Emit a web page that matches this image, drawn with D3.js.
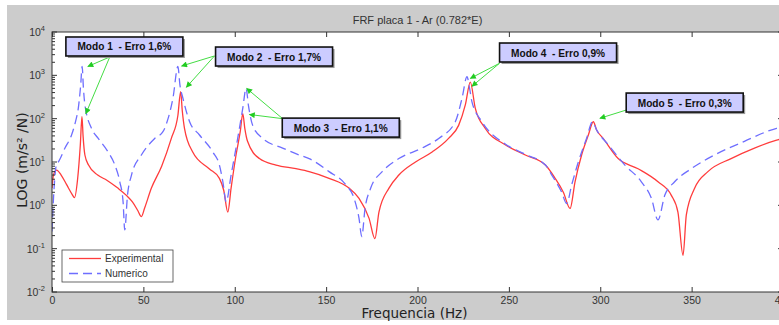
<!DOCTYPE html>
<html><head><meta charset="utf-8">
<script src="https://cdn.jsdelivr.net/npm/d3@7"></script>
<style>body{margin:0;background:#fff}svg{display:block}</style>
</head><body>
<script>
// ---- data ----
const expFreq = [0,0.8,2.5,5,8,11,12.3,14,15.5,16.4,17,18,20,25,30,36,40.7,44,47,48.9,50.7,54.4,60,65.3,68.9,70.4,71.3,72.5,77,86,91.6,94,96.2,98,100.7,103,104.4,105.5,107,113.5,122.6,133.5,140.7,151.6,162.5,168,173.5,176.7,178.9,184.4,189.8,198.9,208,217,222.5,226.2,228.9,231.6,237,248,259,270,275.3,279.8,283.5,286.2,289.8,293.5,296.2,298,301.6,309.8,320.7,331.6,338.9,342.5,345.3,347.1,351.7,358.9,371.6,384.4,396.5,400];
const expVal = [2.5,5,6.5,5,3,1.8,1.5,4,25,112,40,14.5,8.5,5,3.8,2.5,1.7,1.2,0.75,0.55,0.87,2.5,8,35,120,420,150,60,17,7,4.2,2.2,0.7,2.5,14.5,50,130,60,30,12,8.5,7,6,4.2,2.5,1.45,0.5,0.17,0.7,2.5,5,10,17,35,70,210,700,175,60,25,14.5,8.5,4.2,2,0.85,3.5,14.5,42,85,55,35,12,7,3.5,1.7,0.7,0.07,0.6,2.5,6,12,21,32,35];
const numFreq = [0,1,2.5,3.4,7.1,10.7,13,14.4,15.7,16.5,17.2,18,21.6,25.3,30.7,34.4,37.1,38.9,39.8,41.3,43.5,48.9,56.2,60.7,63.5,66.2,68.9,70,71.6,75.3,80.7,88,91.6,93.5,95.3,98,101.6,104.4,106.2,107.5,109.8,115.3,126.2,135.3,140.7,151.6,160.7,165.3,168,169.5,171.3,174.4,180.7,189.8,202.5,211.6,220.7,224.4,227.1,228.5,229.8,235.3,248,259,270,273.5,278.9,281.6,284.4,288,292.5,295.8,298,304.4,313.5,322.5,328,331.6,335.3,340.7,349.8,362.5,378.9,396.5,400];
const numVal = [0.25,2,9,10,21,42,90,175,600,1600,500,210,60,35,17,8.5,3.5,1.2,0.27,1.7,5,14.5,35,50,100,300,1600,600,300,85,42,17,8.5,3.5,1.2,5,35,175,500,200,70,35,21,14.5,12,6,3,1.45,0.5,0.19,0.85,2.5,6,12,21,35,85,300,930,500,245,85,26,15,8.5,5,2,1.1,3,10,35,85,55,25,8.5,3.5,1.45,0.46,1.7,3.5,7,14.5,30,60,65];
const xTicks = [0,50,100,150,200,250,300,350,400];
const yExponents = [-2,-1,0,1,2,3,4];
const title = "FRF placa 1 - Ar (0.782*E)";
const xTitle = "Frequencia (Hz)";
const yTitle = "LOG (m/s² /N)";
const seriesNames = ["Experimental", "Numerico"];
// annotations: label, box top-left (f, value), arrow start (f, value), arrow targets (f, value)
const annLabels = ["Modo 1  - Erro 1,6%","Modo 2  - Erro 1,7%","Modo 3  - Erro 1,1%","Modo 4  - Erro 0,9%","Modo 5  - Erro 0,3%"];
const annBoxF = [7.6, 89.5, 126, 244.9, 314.2];
const annBoxV = [7670, 4500, 103, 5570, 390];
const annStartF = [31.6, 88.9, 126.2, 244.9, 314.2];
const annStartV = [2650, 2800, 100, 1900, 158];
const annTargets = [[[19.6,1600],[18.5,130]],[[70.9,1640],[73.5,530]],[[106.5,500],[108,125]],[[228.9,850],[229.8,560]],[[299.8,102]]];

const W = 779, H = 325;
const svg = d3.select("body").append("svg").attr("width", W).attr("height", H);
svg.append("rect").attr("x",7).attr("y",5).attr("width",W-7).attr("height",315).attr("fill","#cccccc");

const x = d3.scaleLinear().domain([0,400]).range([52,783]);
const y = d3.scaleLog().domain([0.01,1e4]).range([292,32]);
const L=52,R=783,T=32,B=292;

svg.append("rect").attr("x",L).attr("y",T).attr("width",R-L).attr("height",B-T).attr("fill","#fff");

svg.append("text").attr("x",(L+R)/2).attr("y",24).attr("text-anchor","middle")
  .attr("font-family","Liberation Sans, Arial").attr("font-size",11).attr("fill","#333").text(title);

svg.append("clipPath").attr("id","pc").append("rect").attr("x",L).attr("y",T).attr("width",R-L).attr("height",B-T);

const line = d3.line().x(d=>x(d[0])).y(d=>y(d[1])).curve(d3.curveMonotoneX);
const g = svg.append("g").attr("clip-path","url(#pc)");
g.append("path").datum(expFreq.map((f,i)=>[f,expVal[i]])).attr("d",line)
  .attr("fill","none").attr("stroke","#ff3c3c").attr("stroke-width",1.3);
g.append("path").datum(numFreq.map((f,i)=>[f,numVal[i]])).attr("d",line)
  .attr("fill","none").attr("stroke","#6e6eff").attr("stroke-width",1.3).attr("stroke-dasharray","9,5");

const axc = "#333";
svg.append("rect").attr("x",L).attr("y",T).attr("width",R-L).attr("height",B-T).attr("fill","none").attr("stroke",axc).attr("stroke-width",1);

const xb = svg.append("g").attr("transform",`translate(0,${B})`).call(d3.axisBottom(x).tickValues(xTicks).tickSize(-5).tickFormat(d3.format("d")).tickPadding(5));
const xt = svg.append("g").attr("transform",`translate(0,${T})`).call(d3.axisTop(x).tickValues(xTicks).tickSize(-5).tickFormat(""));
[xb,xt].forEach(a=>{a.select(".domain").remove();a.selectAll("line").attr("stroke",axc);
  a.selectAll("text").attr("font-family","Liberation Sans, Arial").attr("font-size",10.5).attr("fill","#333");});

const minorVals = [];
yExponents.slice(0,-1).forEach(e=>{for(let k=2;k<=9;k++) minorVals.push(k*Math.pow(10,e));});
const majorVals = yExponents.map(e=>Math.pow(10,e));
[[L,1],[R,-1]].forEach(([px,dir])=>{
  const ga = svg.append("g");
  ga.selectAll(".mj").data(majorVals).join("line").attr("x1",px).attr("x2",px+dir*5).attr("y1",d=>y(d)).attr("y2",d=>y(d)).attr("stroke",axc);
  ga.selectAll(".mn").data(minorVals).join("line").attr("x1",px).attr("x2",px+dir*3).attr("y1",d=>y(d)).attr("y2",d=>y(d)).attr("stroke",axc);
});
const yl = svg.append("g");
yExponents.forEach(e=>{
  const t = yl.append("text").attr("x",45).attr("y",y(Math.pow(10,e))+4).attr("text-anchor","end")
    .attr("font-family","Liberation Sans, Arial").attr("font-size",10.5).attr("fill","#333");
  t.append("tspan").text("10");
  t.append("tspan").attr("dy",-5).attr("font-size",7.5).text(e);
});

svg.append("text").attr("x",(L+R)/2-3).attr("y",318).attr("text-anchor","middle")
  .attr("font-family","DejaVu Sans, Verdana").attr("font-size",13.5).attr("fill","#222").text(xTitle);
svg.append("text").attr("transform",`translate(27,${(T+B)/2-2}) rotate(-90)`).attr("text-anchor","middle")
  .attr("font-family","DejaVu Sans, Verdana").attr("font-size",14).attr("fill","#222").text(yTitle);

const lg = svg.append("g");
lg.append("rect").attr("x",62).attr("y",250).attr("width",111).attr("height",32).attr("fill","#fff").attr("stroke","#444").attr("stroke-width",0.8);
lg.append("line").attr("x1",69).attr("x2",101).attr("y1",258.5).attr("y2",258.5).attr("stroke","#ff3c3c").attr("stroke-width",1.3);
lg.append("line").attr("x1",69).attr("x2",101).attr("y1",273.5).attr("y2",273.5).attr("stroke","#6e6eff").attr("stroke-width",1.3).attr("stroke-dasharray","9,5");
seriesNames.forEach((n,i)=>lg.append("text").attr("x",105).attr("y",262+15*i).attr("font-family","Liberation Sans, Arial").attr("font-size",10).attr("fill","#333").text(n));

const defs = svg.append("defs");
defs.append("marker").attr("id","ah").attr("viewBox","0 0 10 10").attr("refX",9).attr("refY",5)
  .attr("markerWidth",7).attr("markerHeight",6).attr("orient","auto")
  .append("path").attr("d","M0,0L10,5L0,10z").attr("fill","#22cc22");
const ag = svg.append("g");
annLabels.forEach((lab,i)=>{
  const sx = x(annStartF[i]), sy = y(annStartV[i]);
  annTargets[i].forEach(tp=>{
    ag.append("line").attr("x1",sx).attr("y1",sy).attr("x2",x(tp[0])).attr("y2",y(tp[1]))
      .attr("stroke","#44dd44").attr("stroke-width",1).attr("marker-end","url(#ah)");
  });
});
annLabels.forEach((lab,i)=>{
  const bx = x(annBoxF[i]), by = y(annBoxV[i]);
  ag.append("rect").attr("x",bx+2).attr("y",by+2).attr("width",117).attr("height",19).attr("fill","#999");
  ag.append("rect").attr("x",bx).attr("y",by).attr("width",117).attr("height",19).attr("fill","#ccccff").attr("stroke","#111").attr("stroke-width",1.6);
  ag.append("text").attr("x",bx+58.5).attr("y",by+13.5).attr("text-anchor","middle")
    .attr("font-family","Liberation Sans, Arial").attr("font-weight","bold").attr("font-size",10.5).attr("fill","#111")
    .attr("textLength",94).attr("lengthAdjust","spacingAndGlyphs").attr("xml:space","preserve").text(lab);
});
</script>
</body></html>
